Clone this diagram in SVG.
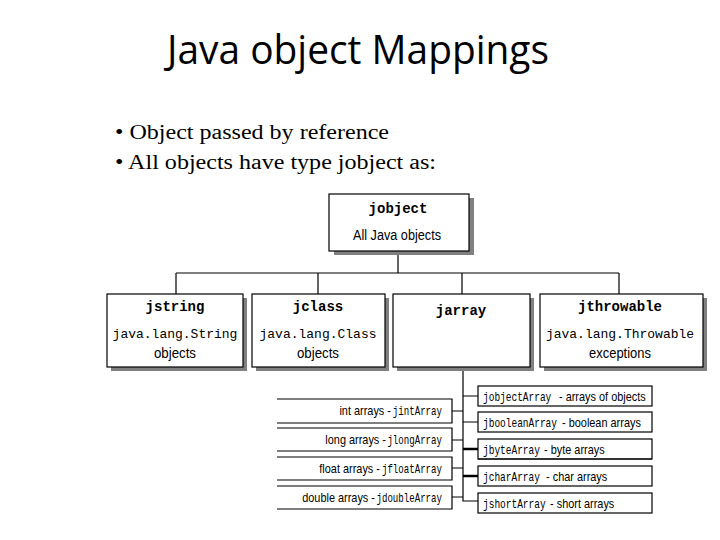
<svg xmlns="http://www.w3.org/2000/svg" width="720" height="540" viewBox="0 0 720 540">
<style>
.title{font-family:"Open Sans","Liberation Sans",sans-serif;font-size:40px;fill:#000}
.bul{font-family:"Liberation Serif",serif;font-size:20px;fill:#000}
.box{fill:#fff;stroke:#000;stroke-width:1.2}
.shadow{fill:#808080}
.hd{font-family:"Liberation Mono","DejaVu Sans Mono",monospace;font-weight:bold;font-size:14px;fill:#000;text-anchor:middle}
.mono{font-family:"Liberation Mono","DejaVu Sans Mono",monospace;font-size:13px;fill:#000;text-anchor:middle}
.sans{font-family:"Liberation Sans",Arial,sans-serif;font-size:14px;fill:#000;text-anchor:middle}
.rs{font-family:"Liberation Sans",Arial,sans-serif;font-size:13px;fill:#000}
.rm{font-family:"Liberation Mono","DejaVu Sans Mono",monospace;font-size:13px;fill:#000}
.end{text-anchor:end}
.ln{fill:none;stroke:#000;stroke-width:1.2}
.thick{fill:none;stroke:#000;stroke-width:2.4}
</style>
<text class="title" x="167" y="64" textLength="382" lengthAdjust="spacingAndGlyphs">Java object Mappings</text>
<text class="bul" x="115" y="139" textLength="274" lengthAdjust="spacingAndGlyphs">• Object passed by reference</text>
<text class="bul" x="115" y="169" textLength="321" lengthAdjust="spacingAndGlyphs">• All objects have type jobject as:</text>

<g id="connectors">
<path class="ln" d="M398 251V273M176 273H619M176 273V294M318 273V294M462 273V294M619 273V294"/>
<path class="ln" d="M463 367V501H478"/>
<path class="ln" d="M463 396H478M463 422H478M452 411H463M452 440H463M452 468H463M452 497H463"/>
<path class="thick" d="M463 449H478M463 476H478"/>
</g>

<g id="jobject">
<rect class="shadow" x="334" y="198" width="140" height="57"/>
<rect class="box" x="329" y="194" width="140" height="57"/>
<text class="hd" x="398" y="213">jobject</text>
<text class="sans" x="397" y="240" textLength="88" lengthAdjust="spacingAndGlyphs">All Java objects</text>
</g>

<g id="jstring">
<rect class="shadow" x="111" y="298" width="136" height="73"/>
<rect class="box" x="107" y="294" width="136" height="73"/>
<text class="hd" x="175" y="311">jstring</text>
<text class="mono" x="175" y="338">java.lang.String</text>
<text class="sans" x="175" y="358" textLength="42" lengthAdjust="spacingAndGlyphs">objects</text>
</g>

<g id="jclass">
<rect class="shadow" x="256" y="298" width="133" height="73"/>
<rect class="box" x="252" y="294" width="133" height="73"/>
<text class="hd" x="318" y="311">jclass</text>
<text class="mono" x="318" y="338">java.lang.Class</text>
<text class="sans" x="318" y="358" textLength="42" lengthAdjust="spacingAndGlyphs">objects</text>
</g>

<g id="jarray">
<rect class="shadow" x="397" y="298" width="137" height="73"/>
<rect class="box" x="393" y="294" width="137" height="73"/>
<text class="hd" x="461" y="315">jarray</text>
</g>

<g id="jthrowable">
<rect class="shadow" x="544" y="298" width="163" height="73"/>
<rect class="box" x="540" y="294" width="163" height="73"/>
<text class="hd" x="620" y="311">jthrowable</text>
<text class="mono" x="620" y="338">java.lang.Throwable</text>
<text class="sans" x="620" y="358" textLength="62" lengthAdjust="spacingAndGlyphs">exceptions</text>
</g>

<g id="jobjectArray">
<rect class="box" x="478" y="386" width="174" height="20"/>
<text class="rm" transform="translate(483 401) scale(0.73 1)">jobjectArray</text>
<text class="rs" transform="translate(559 401) scale(0.84 1)">- arrays of objects</text>
</g>
<g id="jbooleanArray">
<rect class="box" x="478" y="412" width="174" height="20"/>
<text class="rm" transform="translate(483 427) scale(0.73 1)">jbooleanArray</text>
<text class="rs" transform="translate(562 427) scale(0.84 1)">- boolean arrays</text>
</g>
<g id="jbyteArray">
<rect class="box" x="478" y="439" width="174" height="20"/>
<path class="ln" d="M478 459H652" stroke-width="2"/>
<text class="rm" transform="translate(483 454) scale(0.73 1)">jbyteArray</text>
<text class="rs" transform="translate(544 454) scale(0.84 1)">- byte arrays</text>
</g>
<g id="jcharArray">
<rect class="box" x="478" y="466" width="174" height="20"/>
<text class="rm" transform="translate(483 481) scale(0.73 1)">jcharArray</text>
<text class="rs" transform="translate(546 481) scale(0.84 1)">- char arrays</text>
</g>
<g id="jshortArray">
<rect class="box" x="478" y="493" width="174" height="20"/>
<text class="rm" transform="translate(483 508) scale(0.73 1)">jshortArray</text>
<text class="rs" transform="translate(550 508) scale(0.84 1)">- short arrays</text>
</g>

<g id="jintArray">
<path class="ln" d="M277 399H452V423H277"/>
<text class="rm end" transform="translate(442 415) scale(0.7 1)">jintArray</text>
<text class="rs end" transform="translate(391 415) scale(0.84 1)">int arrays -</text>
</g>
<g id="jlongArray">
<path class="ln" d="M277 428H452V451H277"/>
<text class="rm end" transform="translate(442 444) scale(0.7 1)">jlongArray</text>
<text class="rs end" transform="translate(386 444) scale(0.84 1)">long arrays -</text>
</g>
<g id="jfloatArray">
<path class="ln" d="M277 457H452V480H277"/>
<text class="rm end" transform="translate(442 473) scale(0.7 1)">jfloatArray</text>
<text class="rs end" transform="translate(380 473) scale(0.84 1)">float arrays -</text>
</g>
<g id="jdoubleArray">
<path class="ln" d="M277 486H452V509H277"/>
<text class="rm end" transform="translate(442 502) scale(0.7 1)">jdoubleArray</text>
<text class="rs end" transform="translate(375 502) scale(0.84 1)">double arrays -</text>
</g>
</svg>
